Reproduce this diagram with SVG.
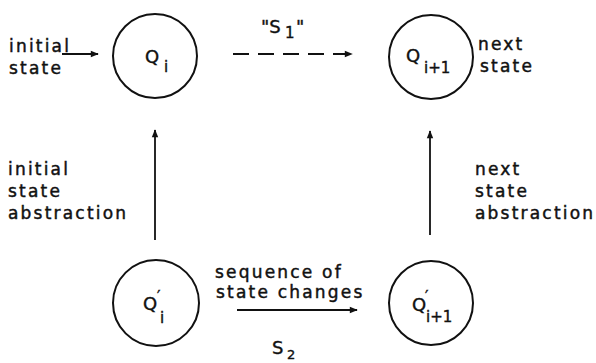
<svg xmlns="http://www.w3.org/2000/svg" width="596" height="363" viewBox="0 0 596 363">
<style>
.lbl{font-family:"DejaVu Sans",sans-serif;font-size:17px;letter-spacing:2.2px;fill:#111;stroke:#111;stroke-width:0.45}
.q{font-family:"DejaVu Sans",sans-serif;font-size:18px;fill:#111;stroke:#111;stroke-width:0.4}
.sub{font-size:15px}
.pr{font-size:15px}
.node{fill:none;stroke:#111;stroke-width:2}
.edge{stroke:#111;stroke-width:1.8;fill:none}
</style>
<defs>
<marker id="ah" viewBox="0 0 10 10" refX="9" refY="5" markerWidth="12" markerHeight="8" markerUnits="userSpaceOnUse" orient="auto">
<path d="M0,1 L10,5 L0,9 z" fill="#111"/>
</marker>
</defs>
<rect width="596" height="363" fill="#fff"/>
<g id="node-Qi">
<circle class="node" cx="155" cy="56" r="42"/>
<text class="q" x="145" y="63">Q<tspan class="sub" x="164" y="72">i</tspan></text>
</g>
<g id="node-Qi1">
<circle class="node" cx="431" cy="57" r="42"/>
<text class="q" x="406" y="62">Q<tspan class="sub" x="424" y="73">i+1</tspan></text>
</g>
<g id="node-Qpi">
<circle class="node" cx="156" cy="303" r="43"/>
<text class="q" x="143" y="310">Q<tspan class="pr" x="157" y="302">′</tspan><tspan class="sub" x="160" y="323">i</tspan></text>
</g>
<g id="node-Qpi1">
<circle class="node" cx="431" cy="303" r="42"/>
<text class="q" x="412" y="311">Q<tspan class="pr" x="425" y="302">′</tspan><tspan class="sub" x="426" y="322">i+1</tspan></text>
</g>
<g id="connectors">
<line class="edge" x1="62" y1="54" x2="98" y2="54" marker-end="url(#ah)"/>
<line class="edge" x1="233" y1="54" x2="352" y2="54" stroke-dasharray="16,9" marker-end="url(#ah)"/>
<line class="edge" x1="155" y1="240" x2="155" y2="130" marker-end="url(#ah)"/>
<line class="edge" x1="430" y1="235" x2="430" y2="131" marker-end="url(#ah)"/>
<line class="edge" x1="237" y1="310" x2="357" y2="310" marker-end="url(#ah)"/>
</g>
<g id="labels">
<text class="lbl" x="9" y="52">initial</text>
<text class="lbl" x="9" y="74">state</text>
<text class="lbl" x="478" y="50">next</text>
<text class="lbl" x="480" y="72">state</text>
<text class="lbl" x="8" y="175">initial</text>
<text class="lbl" x="8" y="197">state</text>
<text class="lbl" x="8" y="219">abstraction</text>
<text class="lbl" x="475" y="175">next</text>
<text class="lbl" x="475" y="197">state</text>
<text class="lbl" x="475" y="219">abstraction</text>
<text class="lbl" x="215" y="278">sequence of</text>
<text class="lbl" x="216" y="298">state changes</text>
<text class="q" x="261" y="33">"S<tspan class="sub" x="285" y="38">1</tspan><tspan x="296" y="33">"</tspan></text>
<text class="q" x="272" y="354">S<tspan class="sub" x="287" y="359" style="font-size:13px">2</tspan></text>
</g>
</svg>
